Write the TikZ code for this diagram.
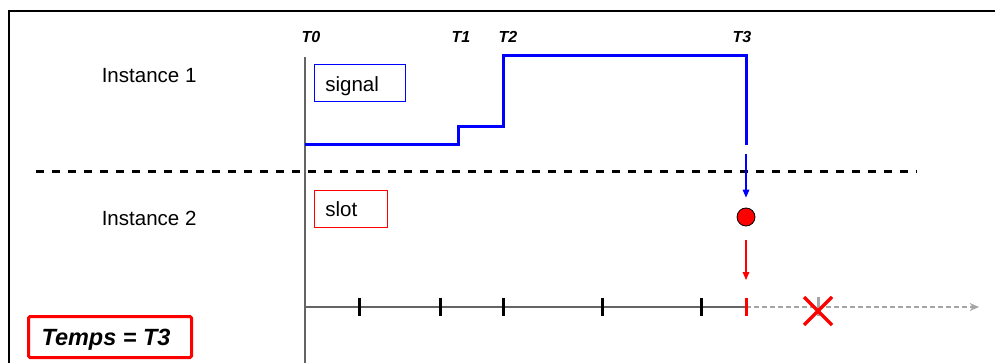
\documentclass[tikz,border=0pt]{standalone}
\usepackage{fontspec}
\setmainfont{Liberation Sans}
\usetikzlibrary{arrows.meta}
\definecolor{sigblue}{RGB}{0,0,255}
\definecolor{sigred}{RGB}{255,0,0}
\definecolor{axisdark}{RGB}{100,100,100}
\definecolor{axislight}{RGB}{165,165,165}
\begin{document}
\begin{tikzpicture}[x=0.75pt,y=-0.75pt,
  lbl/.style={font=\fontsize{15.4}{18}\selectfont, inner sep=0, anchor=base west},
  tlbl/.style={font=\fontsize{12}{14}\selectfont\bfseries\itshape, inner sep=0, anchor=base},
  boxblue/.style={draw=sigblue, line width=0.9pt, anchor=north west, inner sep=0, minimum height=27.75pt},
  boxred/.style={draw=sigred, line width=0.9pt, anchor=north west, inner sep=0, minimum height=27.75pt},
  tickmark/.style={line width=2.25pt},
  signalline/.style={draw=sigblue, line width=2.25pt, line join=miter},
  thinarrow/.style={line width=0.8pt, -{Triangle[length=6pt,width=5pt]}},
]
\useasboundingbox (0,0) rectangle (995,363);

% frame (top and left edges)
\coordinate (ftl) at (9,11);
\coordinate (ftr) at (995,11);
\coordinate (fbl) at (9,363);
\draw[line width=1.6pt, black] (ftr) -- (ftl) -- (fbl);

% T0 vertical axis
\coordinate (v0) at (305,57);
\coordinate (v1) at (305,363);
\draw[axisdark, line width=1.1pt] (v0) -- (v1);

% time labels
\node[tlbl] (t0) at (311,43) {T0};
\node[tlbl] (t1) at (461,43) {T1};
\node[tlbl] (t2) at (508,43) {T2};
\node[tlbl] (t3) at (742,43) {T3};

% instance labels
\node[lbl] (inst1) at (101.5,82.7) {Instance 1};
\node[lbl] (inst2) at (101.5,226) {Instance 2};

% signal / slot boxes
\node[boxblue, minimum width=68.25pt] (sigbox) at (314,64) {};
\node[lbl] (sigtxt) at (325,92) {signal};
\node[boxred, minimum width=54.75pt] (slotbox) at (314,190) {};
\node[lbl] (slottxt) at (325,216.7) {slot};

% signal waveform
\coordinate (s0) at (305,145);
\coordinate (s1) at (458,145);
\coordinate (s1b) at (458,127);
\coordinate (s2) at (503,127);
\coordinate (s2b) at (503,56);
\coordinate (s3) at (746,56);
\coordinate (s3b) at (746,145);
\draw[signalline] (s0) -- (s1) -- (s1b) -- (s2) -- (s2b) -- (s3) -- (s3b);

% dashed separator
\coordinate (d0) at (36,172);
\coordinate (d1) at (917,172);
\draw[black, line width=2.25pt, dash pattern=on 6.2pt off 5.8pt] (d0) -- (d1);

% slot dot and arrows
\node[circle, fill=sigred, draw=black, line width=0.6pt, minimum size=13.5pt, inner sep=0] (dot) at (746,217) {};
\coordinate (ba0) at (746,154);
\draw[sigblue, thinarrow, shorten >=7.5pt] (ba0) -- (dot.north);
\coordinate (rt) at (746,298);
\draw[sigred, thinarrow, shorten <=10.5pt, shorten >=13.5pt] (dot.south) -- (rt);

% timeline
\coordinate (ax0) at (305,307);
\coordinate (ax3) at (746,307);
\coordinate (axend) at (979,307);
\draw[axisdark, line width=1.5pt] (ax0) -- (ax3);
\draw[axislight, line width=1.3pt, dash pattern=on 3.75pt off 2.25pt, -{Stealth[length=7pt,width=6pt]}] (ax3) -- (axend);

% ticks
\foreach \tx/\nm in {359/k1,440/k2,503/k3,602/k4,701/k5}{
  \coordinate (\nm a) at (\tx,298);
  \coordinate (\nm b) at (\tx,316);
  \draw[tickmark, black] (\nm a) -- (\nm b);
}
\coordinate (rka) at (746,298);
\coordinate (rkb) at (746,316);
\draw[tickmark, sigred] (rka) -- (rkb);
\coordinate (gka) at (818,297);
\coordinate (gkb) at (818,316);
\draw[tickmark, axislight] (gka) -- (gkb);

% cross
\coordinate (xa) at (804,297);
\coordinate (xb) at (832,325);
\coordinate (xc) at (804,325);
\coordinate (xd) at (832,297);
\draw[sigred, line width=2.6pt] (xa) -- (xb) (xc) -- (xd);

% Temps box
\node[draw=sigred, line width=2.25pt, rounded corners=1.2pt, anchor=north west, inner sep=0, minimum width=122.25pt, minimum height=30.75pt] (tempsbox) at (27,315) {};
\node[font=\fontsize{17.6}{20}\selectfont\bfseries\itshape, inner sep=0, anchor=base] (temps) at (106,345) {Temps = T3};
\end{tikzpicture}
\end{document}
